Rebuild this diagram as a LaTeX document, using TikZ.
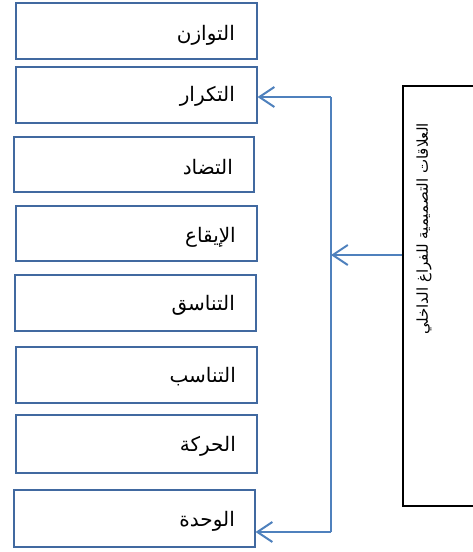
\documentclass[tikz,border=0pt]{standalone}
\usepackage{fontspec}
\TeXXeTstate=1
\newfontfamily\arabicfont[Script=Arabic]{DejaVu Sans}
\usetikzlibrary{arrows.meta}
\definecolor{boxblue}{RGB}{65,105,160}
\definecolor{arrblue}{RGB}{79,129,189}
\tikzset{
  itembox/.style={draw=boxblue, line width=1.2pt, minimum width=241pt, minimum height=56pt, inner sep=0pt},
  itemtext/.style={anchor=east, inner sep=0pt, font=\arabicfont\fontsize{20}{24}\selectfont},
  conn/.style={draw=arrblue, line width=2pt},
  arr/.style={conn, -{Straight Barb[length=15pt,width=20pt,line width=2pt]}},
  mainbox/.style={draw=black, line width=2pt, minimum width=80pt, minimum height=420pt, inner sep=0pt}
}
\begin{document}
\begin{tikzpicture}[x=1pt,y=-1pt]
\useasboundingbox (0,0) rectangle (472,552);
\node[itembox] (b1) at (136.5,31) {};
\node[itembox] (b2) at (136.5,95) {};
\node[itembox, minimum width=240pt, minimum height=55pt] (b3) at (134,164.5) {};
\node[itembox, minimum height=55pt] (b4) at (136.5,233.5) {};
\node[itembox] (b5) at (135.5,303) {};
\node[itembox] (b6) at (136.5,375) {};
\node[itembox, minimum height=58pt] (b7) at (136.5,444) {};
\node[itembox, minimum height=57pt] (b8) at (134.5,518.5) {};
\node[itemtext] (t1) at (235,35) {\beginR التوازن\endR};
\node[itemtext] (t2) at (235,96) {\beginR التكرار\endR};
\node[itemtext] (t3) at (233,167) {\beginR التضاد\endR};
\node[itemtext] (t4) at (236,237) {\beginR الإيقاع\endR};
\node[itemtext] (t5) at (235,305) {\beginR التناسق\endR};
\node[itemtext] (t6) at (236,377) {\beginR التناسب\endR};
\node[itemtext] (t7) at (236,446) {\beginR الحركة\endR};
\node[itemtext] (t8) at (235,521) {\beginR الوحدة\endR};
\node[mainbox] (R) at (443,296) {};
\node[rotate=90, inner sep=0pt, font=\arabicfont\fontsize{15}{18}\selectfont] (rt) at (424,229) {\beginR العلاقات التصميمية للفراغ الداخلي\endR};
\coordinate (j1) at (331,97);
\coordinate (j2) at (331,532);
\coordinate (m) at (331,255);
\draw[conn] (j1) -- (j2);
\draw[arr] (j1) -- (j1 -| b2.east);
\draw[arr] (j2) -- (j2 -| b8.east);
\draw[arr] (R.west |- m) -- (m);
\end{tikzpicture}
\end{document}
